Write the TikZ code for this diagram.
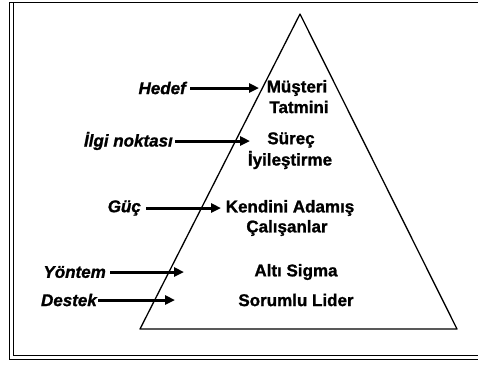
\documentclass[tikz,border=0pt]{standalone}
\usepackage{fontspec}
\setmainfont{Liberation Sans}
\newfontfamily\heavy[FakeBold=1.2]{Liberation Sans Bold}
\newfontfamily\heavyit[FakeBold=1.2]{Liberation Sans Bold Italic}
\usetikzlibrary{arrows.meta}
\begin{document}
\begin{tikzpicture}[x=1pt,y=-1pt,
  level/.style={font=\heavy\fontsize{17}{19}\selectfont, align=center, inner sep=0pt},
  role/.style={font=\heavyit\fontsize{17}{19}\selectfont, inner sep=0pt},
  pointer/.style={line width=3pt, -{Triangle[length=10pt,width=9pt]}},
  frameline/.style={line width=1pt}]
\useasboundingbox (0,0) rectangle (478,365);
% frame: double rule on the left and bottom, single rule on top
\draw[frameline] (478,2) -- (9,2) -- (9,359) -- (478,359);
\draw[frameline] (13,2) -- (13,355) -- (478,355);
% pyramid
\coordinate (apex) at (300,14);
\coordinate (bl) at (140,329);
\coordinate (br) at (457,329);
\draw[line width=1.3pt, line join=round] (apex) -- (bl) -- (br) -- cycle;
% levels
\node[level] (l1a) at (297,88) {Müşteri};
\node[level] (l1b) at (299,107) {Tatmini};
\node[level] (l2a) at (291,140) {Süreç};
\node[level] (l2b) at (290,160) {İyileştirme};
\node[level] (l3a) at (290,208) {Kendini Adamış};
\node[level] (l3b) at (287,228) {Çalışanlar};
\node[level] (l4) at (296,272) {Altı Sigma};
\node[level] (l5) at (296,300) {Sorumlu Lider};
% roles
\node[role, anchor=east] (r1) at (186,88) {Hedef};
\node[role, anchor=east] (r2) at (173,141) {İlgi noktası};
\node[role, anchor=east] (r3) at (141,208) {Güç};
\node[role, anchor=east] (r4) at (106,272) {Yöntem};
\node[role, anchor=east] (r5) at (97,300) {Destek};
% pointers
\coordinate (t1) at (259,88);
\coordinate (t2) at (250,141);
\coordinate (t3) at (221,208);
\coordinate (t4) at (184,272);
\coordinate (t5) at (175,300);
\draw[pointer] (r1.east) ++(4,0) -- (t1);
\draw[pointer] (r2.east) ++(2,0) -- (t2);
\draw[pointer] (r3.east) ++(5,0) -- (t3);
\draw[pointer] (r4.east) ++(4,0) -- (t4);
\draw[pointer] (r5.east) ++(1,0) -- (t5);
\end{tikzpicture}
\end{document}
